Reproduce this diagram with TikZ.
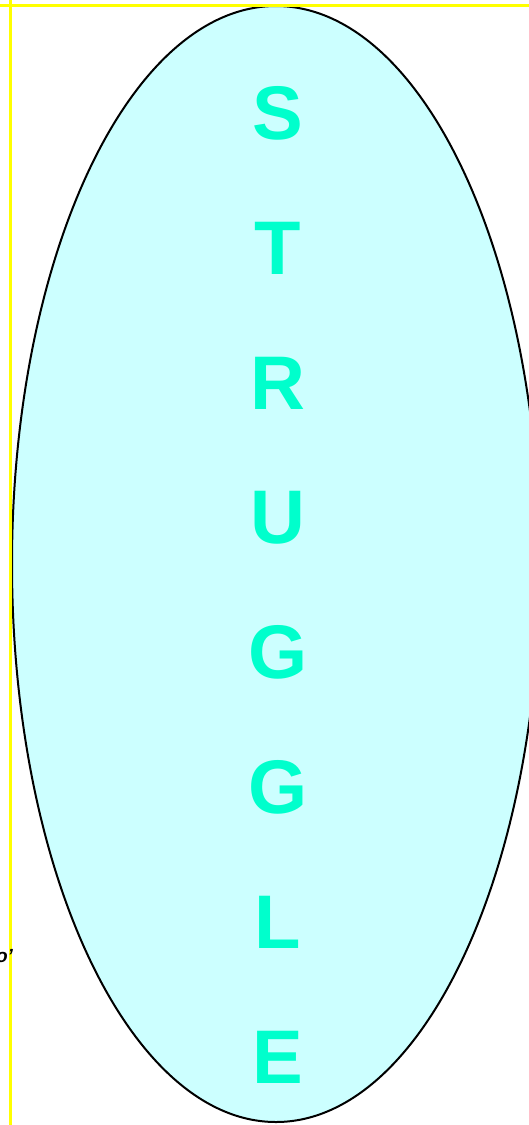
\documentclass[tikz,border=0pt]{standalone}
\usepackage{fontspec}
\setmainfont{Liberation Sans}
\usepackage{xcolor}
\usepackage{tikz}
\usetikzlibrary{positioning,shapes.geometric}
\definecolor{palecyan}{RGB}{204,255,255}
\definecolor{brightaqua}{RGB}{0,255,204}
\definecolor{guideyellow}{RGB}{255,255,0}

\begin{document}
\begin{tikzpicture}[x=1pt, y=1pt, node distance=79.4pt, blob/.style={draw, ellipse, line width=2pt, fill=palecyan, inner sep=0pt, minimum width=528pt, minimum height=1116pt}, letter/.style={text=brightaqua, font=\fontsize{76}{76}\selectfont\bfseries, inner sep=0pt, text height=55pt, text depth=0pt}, guide/.style={draw=guideyellow, line width=3pt}]
\useasboundingbox (0,0) rectangle (529,-1125);
\node[blob] (oval) at (276,-564) {};
\draw[guide] (0,-5) -- (529,-5);
\draw[guide] (10.5,0) -- (10.5,-1125);
\node[anchor=base east, font=\fontsize{19}{19}\selectfont\bfseries\itshape] (cut) at (16.5,-962) {o'};
\node[letter] (s) at (278,-112) {S};
\node[letter, below=of s] (t) {T};
\node[letter, below=of t] (r) {R};
\node[letter, below=of r] (u) {U};
\node[letter, below=of u] (g1) {G};
\node[letter, below=of g1] (g2) {G};
\node[letter, below=of g2] (l) {L};
\node[letter, below=of l] (e) {E};
\end{tikzpicture}
\end{document}
